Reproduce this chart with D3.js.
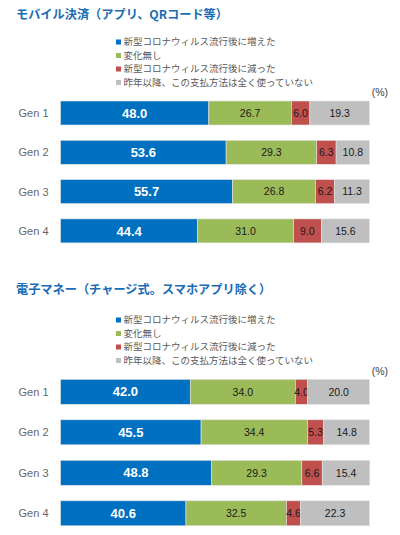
<!DOCTYPE html>
<html>
<head>
<meta charset="utf-8">
<script src="https://cdn.jsdelivr.net/npm/d3@7"></script>
<style>
  body { margin: 0; background: #fff; }
  svg text { font-family: "Liberation Sans", Arial, "Noto Sans CJK JP", sans-serif; }
  .jp { font-family: "Noto Sans CJK JP", sans-serif; }
</style>
</head>
<body>
<div id="chart-area"></div>
<script>
let width = 400,
height = 535;

// categories and legend
let gens = ["Gen 1", "Gen 2", "Gen 3", "Gen 4"];
let seriesNames = [
    "新型コロナウィルス流行後に増えた",
    "変化無し",
    "新型コロナウィルス流行後に減った",
    "昨年以降、この支払方法は全く使っていない"
];
let colors = ["#0070c0", "#9bbb59", "#c0504d", "#bfbfbf"];

// panel 1: モバイル決済
let mobileTitle = "モバイル決済（アプリ、QRコード等）";
let mobileIncreased = [48.0, 53.6, 55.7, 44.4];
let mobileNoChange  = [26.7, 29.3, 26.8, 31.0];
let mobileDecreased = [6.0, 6.3, 6.2, 9.0];
let mobileNotUsed   = [19.3, 10.8, 11.3, 15.6];

// panel 2: 電子マネー
let emoneyTitle = "電子マネー（チャージ式。スマホアプリ除く）";
let emoneyIncreased = [42.0, 45.5, 48.8, 40.6];
let emoneyNoChange  = [34.0, 34.4, 29.3, 32.5];
let emoneyDecreased = [4.0, 5.3, 6.6, 4.6];
let emoneyNotUsed   = [20.0, 14.8, 15.4, 22.3];

let svg = d3.select("#chart-area").append("svg")
    .attr("width", width)
    .attr("height", height);

let x = d3.scaleLinear().domain([0, 100]).range([60.5, 369.5]);

function drawPanel(top, title, series, legTop, barTop, step, barH) {
    let g = svg.append("g").attr("transform", "translate(0," + top + ")");

    g.append("text")
        .attr("class", "jp")
        .attr("x", 16).attr("y", 15)
        .attr("dy", "0.36em")
        .attr("font-size", 12.2)
        .attr("font-weight", "bold")
        .attr("fill", "#1a6cb5")
        .text(title);

    // legend
    let leg = g.selectAll(".leg")
        .data(seriesNames)
        .enter().append("g")
        .attr("class", "leg")
        .attr("transform", (d, i) => "translate(116," + (legTop + i * 13.5) + ")");
    leg.append("rect")
        .attr("x", 0).attr("y", -2.5)
        .attr("width", 5).attr("height", 5)
        .attr("fill", (d, i) => colors[i]);
    leg.append("text")
        .attr("class", "jp")
        .attr("x", 7.5).attr("dy", "0.36em")
        .attr("font-size", 9.5)
        .attr("fill", "#595959")
        .text(d => d);

    g.append("text")
        .attr("x", 388).attr("y", barTop - 8.5)
        .attr("dy", "0.36em")
        .attr("text-anchor", "end")
        .attr("font-size", 10.5)
        .attr("fill", "#404040")
        .text("(%)");

    let y = d3.scaleBand()
        .domain(gens)
        .range([barTop, barTop + step * (gens.length - 1) + barH])
        .paddingInner((step - barH) / step)
        .paddingOuter(0);

    // stack data
    let rows = gens.map((gen, i) => {
        let r = { gen: gen };
        series.forEach((s, k) => { r["s" + k] = s[i]; });
        return r;
    });
    let keys = series.map((s, k) => "s" + k);
    let stacked = d3.stack().keys(keys)(rows);

    let layer = g.selectAll(".layer")
        .data(stacked)
        .enter().append("g")
        .attr("class", "layer");

    layer.selectAll("rect")
        .data((d, k) => d.map(p => ({ p: p, k: k })))
        .enter().append("rect")
        .attr("x", d => x(d.p[0]))
        .attr("y", d => y(d.p.data.gen))
        .attr("width", d => x(d.p[1]) - x(d.p[0]))
        .attr("height", y.bandwidth())
        .attr("fill", d => colors[d.k])
        .attr("stroke", "#e4e4e4")
        .attr("stroke-width", 0.6);

    layer.selectAll("text")
        .data((d, k) => d.map(p => ({ p: p, k: k })))
        .enter().append("text")
        .attr("x", d => (x(d.p[0]) + x(d.p[1])) / 2)
        .attr("y", d => y(d.p.data.gen) + y.bandwidth() / 2)
        .attr("dy", "0.36em")
        .attr("text-anchor", "middle")
        .attr("font-size", d => d.k === 0 ? 13 : 10.5)
        .attr("font-weight", d => d.k === 0 ? "bold" : "normal")
        .attr("fill", d => d.k === 0 ? "#ffffff" : "#1a1a1a")
        .text(d => (d.p[1] - d.p[0]).toFixed(1));

    // category labels
    g.selectAll(".gen")
        .data(gens)
        .enter().append("text")
        .attr("class", "gen")
        .attr("x", 48.5)
        .attr("y", d => y(d) + y.bandwidth() / 2)
        .attr("dy", "0.36em")
        .attr("text-anchor", "end")
        .attr("font-size", 11)
        .attr("fill", "#666666")
        .text(d => d);
}

drawPanel(0, mobileTitle,
    [mobileIncreased, mobileNoChange, mobileDecreased, mobileNotUsed],
    42, 101, 39.3, 24);
drawPanel(275, emoneyTitle,
    [emoneyIncreased, emoneyNoChange, emoneyDecreased, emoneyNotUsed],
    45, 104.3, 40.5, 25);
</script>
</body>
</html>
